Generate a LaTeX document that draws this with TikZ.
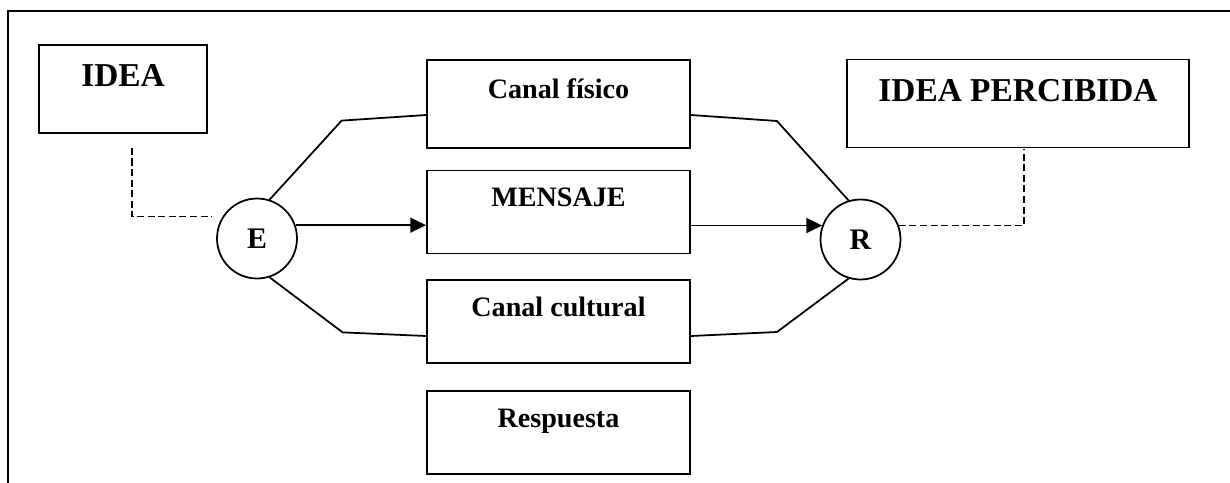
\documentclass[tikz,border=0pt]{standalone}
\usepackage{fontspec}
\setmainfont{Liberation Serif}
\usetikzlibrary{arrows.meta}

\begin{document}
\begin{tikzpicture}[x=0.02cm,y=-0.02cm,
  box/.style={draw,line width=1.1pt,inner sep=0pt,minimum width=5.26cm,minimum height=1.66cm,font=\bfseries\fontsize{16}{19}\selectfont,text height=11pt,text depth=16.7pt},
  bigbox/.style={draw,line width=1.1pt,inner sep=0pt,minimum height=1.76cm,font=\bfseries\fontsize{19}{23}\selectfont,text height=13pt,text depth=15.3pt},
  agent/.style={draw,circle,line width=1pt,inner sep=0pt,minimum size=1.6cm,font=\bfseries\fontsize{17}{20}\selectfont,text height=11pt,text depth=0pt},
  link/.style={line width=1pt},
  flow/.style={line width=1pt,-{Triangle[length=9pt,width=8.5pt]}},
  dashlink/.style={line width=1pt,dash pattern=on 4pt off 2pt}]
\useasboundingbox (0,0) rectangle (1230,483);
\draw[line width=1.3pt] (8,483) -- (8,11) -- (1230,11);
% boxes
\node[bigbox,minimum width=3.36cm] (idea) at (123,89) {IDEA};
\node[bigbox,minimum width=6.84cm] (percibida) at (1018,103.5) {IDEA PERCIBIDA};
\node[box,minimum height=1.76cm] (fisico) at (558.5,104) {Canal físico};
\node[box] (mensaje) at (558.5,212) {MENSAJE};
\node[box] (cultural) at (558.5,321.5) {Canal cultural};
\node[box] (respuesta) at (558.5,432.5) {Respuesta};
\node[agent] (emisor) at (257,238.5) {E};
\node[agent] (receptor) at (860.5,239.5) {R};
% channels
\draw[link] (emisor.72) -- ++(72,-79) -- ([shift={(0,11)}]fisico.west);
\draw[link] ([shift={(0,11)}]fisico.east) -- ++(86,6) -- (receptor.107);
\draw[link] (emisor.288) -- ++(73,55) -- ([shift={(0,14.5)}]cultural.west);
\draw[link] ([shift={(0,14.5)}]cultural.east) -- ++(86,-4) -- (receptor.253);
\draw[flow] (emisor.19) -- (emisor.19 -| mensaje.west);
\draw[flow] (mensaje.east |- receptor.160) -- (receptor.160);
% ideas
\draw[dashlink] ([shift={(9,14)}]idea.south) |- ([shift={(-45,-22)}]emisor.center);
\draw[dashlink] (receptor.20) -| ([shift={(6,1)}]percibida.south);
\end{tikzpicture}
\end{document}
